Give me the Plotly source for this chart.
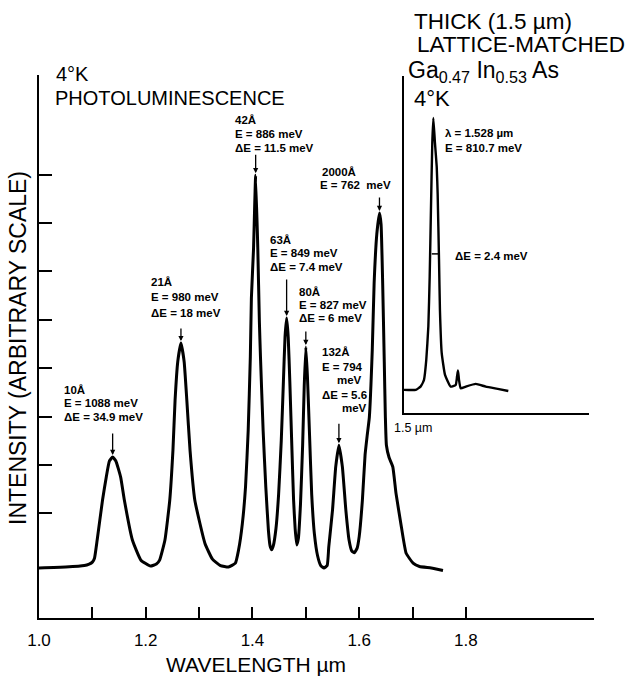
import plotly.graph_objects as go

# ---------------- data ----------------
# main photoluminescence spectrum: wavelength (um) and intensity (arbitrary units)
main_wl = [0.995, 1.050, 1.085, 1.094, 1.100, 1.104, 1.109, 1.119, 1.126, 1.132, 1.138,
           1.144, 1.153, 1.160, 1.175, 1.191, 1.209,
           1.220, 1.226, 1.236, 1.245, 1.251, 1.255, 1.260, 1.266, 1.272, 1.277, 1.283,
           1.292, 1.311, 1.325, 1.340, 1.355,
           1.368, 1.374, 1.381, 1.387, 1.392, 1.396, 1.398, 1.402, 1.406, 1.410, 1.413,
           1.415, 1.420, 1.425, 1.430, 1.433, 1.436, 1.439,
           1.444, 1.449, 1.454, 1.458, 1.461, 1.464, 1.467, 1.470, 1.474, 1.477, 1.480, 1.483,
           1.486, 1.490, 1.494, 1.497, 1.500, 1.503, 1.507, 1.511, 1.516, 1.522, 1.528, 1.534,
           1.540, 1.543, 1.550, 1.556, 1.562, 1.5685, 1.575, 1.581, 1.586, 1.591,
           1.596, 1.600, 1.606, 1.611, 1.615, 1.619, 1.6245, 1.628, 1.633, 1.638,
           1.641, 1.644, 1.647, 1.649, 1.651, 1.656, 1.663, 1.669, 1.679, 1.688,
           1.701, 1.713, 1.735, 1.757]
main_int = [0.00, 0.02, 0.05, 0.08, 0.12, 0.20, 0.57, 1.38, 1.85, 2.18, 2.26,
            2.18, 1.85, 1.38, 0.57, 0.16, 0.04,
            0.08, 0.16, 0.57, 1.38, 2.40, 3.42, 4.20, 4.58, 4.20, 3.42, 2.40,
            1.38, 0.50, 0.18, 0.05, 0.02,
            0.10, 0.37, 0.90, 1.65, 2.80, 4.30, 5.50, 6.50, 8.00, 6.50, 5.00,
            4.30, 2.80, 1.65, 0.75, 0.45, 0.37, 0.45,
            0.80, 1.50, 2.60, 3.80, 4.70, 5.09, 4.70, 3.80, 2.40, 1.40, 0.80, 0.47,
            0.60, 1.30, 2.50, 3.70, 4.50, 3.90, 2.70, 1.50, 0.70, 0.25, 0.05, 0.00,
            0.05, 0.43, 1.18, 2.06, 2.50, 2.06, 1.18, 0.57, 0.35, 0.31,
            0.40, 0.64, 1.38, 2.30, 2.70, 3.07, 4.44, 5.80, 6.80, 7.23,
            7.00, 5.80, 4.20, 3.10, 2.50, 2.25, 2.06, 1.52, 0.84, 0.30,
            0.10, 0.03, 0.00, -0.05]

# labelled peaks
peak_names = ["10Å", "21Å", "42Å", "63Å", "80Å", "132Å", "2000Å"]
peak_wl = [1.138, 1.266, 1.406, 1.464, 1.500, 1.562, 1.638]
peak_int = [2.26, 4.58, 8.00, 5.09, 4.50, 2.50, 7.23]

# inset: thick lattice-matched Ga0.47In0.53As
inset_wl = [1.5000, 1.5113, 1.5160, 1.5193, 1.5215, 1.5235, 1.5248, 1.5260, 1.5273,
            1.5283, 1.5299, 1.5316, 1.5325, 1.5338, 1.5347, 1.5364, 1.5396, 1.5450,
            1.5499, 1.5512, 1.5521, 1.5531, 1.5547, 1.5596, 1.5692, 1.5789, 1.5917, 1.6007]
inset_int = [0.00, 0.00, 0.12, 0.37, 1.10, 2.33, 4.17, 6.60, 9.07,
             10.00, 9.07, 8.20, 7.20, 4.80, 2.94, 1.36, 0.55, 0.12,
             0.18, 0.49, 0.71, 0.37, 0.06, 0.12, 0.22, 0.12, 0.03, -0.04]
inset_hm_wl = [1.5268, 1.5338]
inset_hm_int = [5.0, 5.0]

x_tick_vals = [1.0, 1.1, 1.2, 1.3, 1.4, 1.5, 1.6, 1.7, 1.8]
x_tick_text = ["1.0", "", "1.2", "", "1.4", "", "1.6", "", "1.8"]
y_tick_vals = [1.12, 2.10, 3.08, 4.07, 5.05, 6.04, 7.02, 8.00]

# ---------------- layout helpers ----------------
W, H = 630, 676
L, R, T, B = 39, 594, 75, 618


def PX(x):
    return (x - L) / (R - L)


def PY(y):
    return (B - y) / (B - T)


FONT = "Liberation Sans, Arial, sans-serif"

fig = go.Figure()
fig.add_trace(go.Scatter(x=main_wl, y=main_int, mode="lines",
                         line=dict(color="black", width=3, shape="spline", smoothing=0.4),
                         hoverinfo="skip", showlegend=False))
fig.add_trace(go.Scatter(x=inset_wl, y=inset_int, mode="lines", xaxis="x2", yaxis="y2",
                         line=dict(color="black", width=2.4, shape="spline", smoothing=0.4),
                         hoverinfo="skip", showlegend=False))
fig.add_trace(go.Scatter(x=inset_hm_wl, y=inset_hm_int, mode="lines", xaxis="x2", yaxis="y2",
                         line=dict(color="black", width=1.5),
                         hoverinfo="skip", showlegend=False))

ann = []

# arrows pointing at peaks
arrow_len = [25, 16, 22, 40, 17, 23, 17]
for wl, it, ln in zip(peak_wl, peak_int, arrow_len):
    ann.append(dict(x=wl, y=it, xref="x", yref="y", ax=0, ay=-ln, text="",
                    showarrow=True, arrowhead=2, arrowsize=0.8, arrowwidth=1.3,
                    arrowcolor="black", standoff=2))

small = dict(family=FONT, size=11.5, color="black")
label_lines = [
    (62, 390, "<b>10Å</b>"), (62, 403, "<b>E = 1088 meV</b>"), (62, 417, "<b>ΔE = 34.9 meV</b>"),
    (149, 282, "<b>21Å</b>"), (149, 297, "<b>E = 980 meV</b>"), (149, 313, "<b>ΔE = 18 meV</b>"),
    (233, 120, "<b>42Å</b>"), (233, 134, "<b>E = 886 meV</b>"), (233, 148, "<b>ΔE = 11.5 meV</b>"),
    (268, 240, "<b>63Å</b>"), (268, 253, "<b>E = 849 meV</b>"), (268, 267, "<b>ΔE = 7.4 meV</b>"),
    (297, 292, "<b>80Å</b>"), (297, 305, "<b>E = 827 meV</b>"), (297, 318, "<b>ΔE = 6 meV</b>"),
    (320, 352, "<b>132Å</b>"), (320, 367, "<b>E = 794</b>"), (335, 380, "<b>meV</b>"),
    (320, 395, "<b>ΔE = 5.6</b>"), (340, 408, "<b>meV</b>"),
    (320, 172, "<b>2000Å</b>"), (318, 185, "<b>E = 762\u00a0\u00a0meV</b>"),
    (443, 133, "<b>λ = 1.528 µm</b>"), (443, 148, "<b>E = 810.7 meV</b>"),
    (453, 256, "<b>ΔE = 2.4 meV</b>"),
]
for x, y, t in label_lines:
    ann.append(dict(x=PX(x), y=PY(y), xref="paper", yref="paper", text=t, showarrow=False,
                    xanchor="left", yanchor="middle", font=small))

big_lines = [
    (54, 74, "4°K", 20), (53, 98, "PHOTOLUMINESCENCE", 20),
    (412, 22, "THICK (1.5 µm)", 22.5), (415, 45, "LATTICE-MATCHED", 22.5),
    (406, 72, "Ga<sub>0.47</sub> In<sub>0.53</sub> As", 23), (412, 98, "4°K", 22),
]
for x, y, t, s in big_lines:
    ann.append(dict(x=PX(x), y=PY(y), xref="paper", yref="paper", text=t, showarrow=False,
                    xanchor="left", yanchor="middle",
                    font=dict(family=FONT, size=s, color="black")))

ann.append(dict(x=PX(256), y=PY(664), xref="paper", yref="paper", text="WAVELENGTH µm",
                showarrow=False, xanchor="center", yanchor="middle",
                font=dict(family=FONT, size=21, color="black")))
ann.append(dict(x=PX(18), y=PY(348), xref="paper", yref="paper",
                text="INTENSITY (ARBITRARY SCALE)", textangle=-90,
                showarrow=False, xanchor="center", yanchor="middle",
                font=dict(family=FONT, size=23, color="black")))
ann.append(dict(x=PX(392), y=PY(428), xref="paper", yref="paper", text="1.5 µm",
                showarrow=False, xanchor="left", yanchor="middle",
                font=dict(family=FONT, size=12.5, color="black")))

fig.update_layout(
    width=W, height=H,
    margin=dict(l=L, r=W - R, t=T, b=H - B, pad=0, autoexpand=False),
    paper_bgcolor="white", plot_bgcolor="white",
    showlegend=False,
    font=dict(family=FONT, color="black"),
    xaxis=dict(domain=[0, 1], range=[1.0, 2.04], showline=True, linecolor="black", linewidth=2,
               ticks="inside", ticklen=11, tickwidth=1.5, tickcolor="black",
               tickvals=x_tick_vals, ticktext=x_tick_text, ticklabelstandoff=6,
               tickfont=dict(family=FONT, size=17, color="black"),
               showgrid=False, zeroline=False, automargin=False),
    yaxis=dict(domain=[0, 1], range=[-1.018, 10.04], showline=True, linecolor="black", linewidth=2,
               ticks="inside", ticklen=13, tickwidth=1.5, tickcolor="black",
               tickvals=y_tick_vals, showticklabels=False,
               showgrid=False, zeroline=False, automargin=False),
    xaxis2=dict(domain=[PX(404), PX(589)], range=[1.5, 1.6786], anchor="y2",
                showline=True, linecolor="black", linewidth=1.5, ticks="",
                showticklabels=False, showgrid=False, zeroline=False),
    yaxis2=dict(domain=[PY(413), PY(76)], range=[-0.85, 11.54], anchor="x2",
                showline=True, linecolor="black", linewidth=1.5, ticks="",
                showticklabels=False, showgrid=False, zeroline=False),
    annotations=ann,
)

fig.write_html("out.html", config={"displayModeBar": False},
               post_script="document.body.style.margin='0';document.body.style.padding='0';")
